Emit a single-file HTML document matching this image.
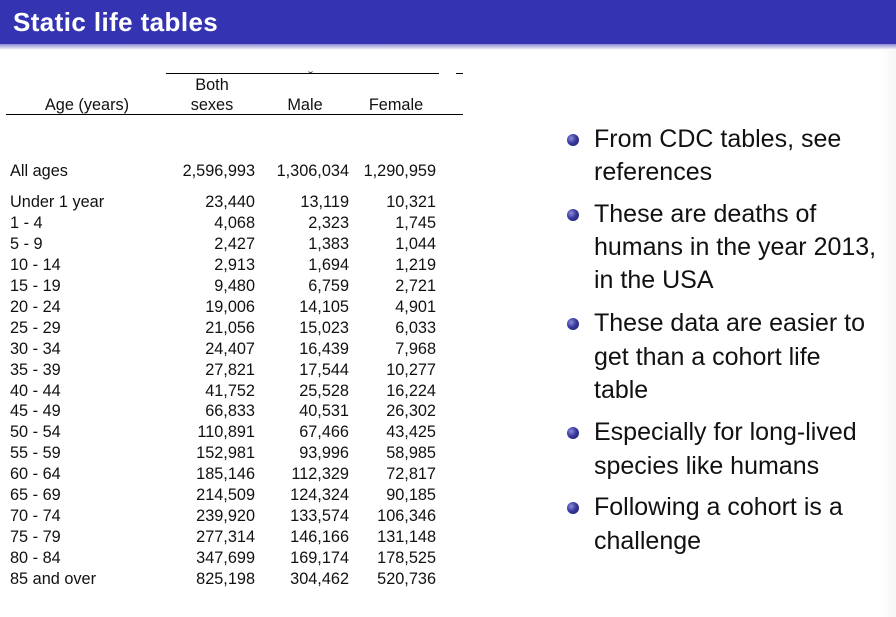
<!DOCTYPE html>
<html><head><meta charset="utf-8">
<style>
html,body{margin:0;padding:0;}
body{width:896px;height:617px;position:relative;overflow:hidden;background:#fff;font-family:"Liberation Sans",Arial,sans-serif;}
#bar{position:absolute;left:0;top:0;width:896px;height:44px;background:#3434b2;}
#shadow{position:absolute;left:0;top:44px;width:896px;height:6px;background:linear-gradient(#8a8ad0,#fff);}
#title{position:absolute;left:13px;top:5px;font-size:26px;font-weight:bold;color:#fff;line-height:34px;letter-spacing:0.4px;}
#edge{position:absolute;left:880px;top:50px;width:16px;height:567px;background:linear-gradient(90deg,#fff,#f6f6f8);}
.t{position:absolute;font-size:16.3px;color:#111;line-height:20px;white-space:nowrap;}
.l{left:10px;}
.c1{right:641px;text-align:right;}
.c2{right:547px;text-align:right;}
.c3{right:460px;text-align:right;}
.hr{position:absolute;background:#000;height:1.3px;}
.b{position:absolute;font-size:25px;color:#111;line-height:33px;white-space:nowrap;left:594px;}
.dot{position:absolute;left:567px;width:12px;height:12px;border-radius:50%;background:radial-gradient(circle at 35% 35%,#8c8cd8 0%,#3a3aa0 45%,#1a1a60 100%);}
</style></head><body>
<div id="bar"></div><div id="shadow"></div>
<div id="title">Static life tables</div>
<div id="edge"></div>

<div class="hr" style="left:166px;top:73px;width:273px;"></div>
<div class="hr" style="left:456px;top:73px;width:7px;"></div>
<div style="position:absolute;left:308px;top:70px;width:5px;height:2px;border-bottom:1px solid #333;border-radius:0 0 3px 3px;"></div>
<div class="hr" style="left:6px;top:114px;width:457px;"></div>

<div class="t" style="left:172px;width:80px;text-align:center;top:75px;">Both</div>
<div class="t" style="left:172px;width:80px;text-align:center;top:95px;">sexes</div>
<div class="t" style="left:40px;width:94px;text-align:center;top:95px;">Age (years)</div>
<div class="t" style="left:275px;width:60px;text-align:center;top:95px;">Male</div>
<div class="t" style="left:360px;width:72px;text-align:center;top:95px;">Female</div>

<div class="t l" style="top:161px;">All ages</div>
<div class="t c1" style="top:161px;">2,596,993</div>
<div class="t c2" style="top:161px;">1,306,034</div>
<div class="t c3" style="top:161px;">1,290,959</div>

<div class="t l" style="top:192px;">Under 1 year</div><div class="t c1" style="top:192px;">23,440</div><div class="t c2" style="top:192px;">13,119</div><div class="t c3" style="top:192px;">10,321</div>
<div class="t l" style="top:213px;">1 - 4</div><div class="t c1" style="top:213px;">4,068</div><div class="t c2" style="top:213px;">2,323</div><div class="t c3" style="top:213px;">1,745</div>
<div class="t l" style="top:234px;">5 - 9</div><div class="t c1" style="top:234px;">2,427</div><div class="t c2" style="top:234px;">1,383</div><div class="t c3" style="top:234px;">1,044</div>
<div class="t l" style="top:254.5px;">10 - 14</div><div class="t c1" style="top:254.5px;">2,913</div><div class="t c2" style="top:254.5px;">1,694</div><div class="t c3" style="top:254.5px;">1,219</div>
<div class="t l" style="top:275.5px;">15 - 19</div><div class="t c1" style="top:275.5px;">9,480</div><div class="t c2" style="top:275.5px;">6,759</div><div class="t c3" style="top:275.5px;">2,721</div>
<div class="t l" style="top:296.5px;">20 - 24</div><div class="t c1" style="top:296.5px;">19,006</div><div class="t c2" style="top:296.5px;">14,105</div><div class="t c3" style="top:296.5px;">4,901</div>
<div class="t l" style="top:317.5px;">25 - 29</div><div class="t c1" style="top:317.5px;">21,056</div><div class="t c2" style="top:317.5px;">15,023</div><div class="t c3" style="top:317.5px;">6,033</div>
<div class="t l" style="top:338.5px;">30 - 34</div><div class="t c1" style="top:338.5px;">24,407</div><div class="t c2" style="top:338.5px;">16,439</div><div class="t c3" style="top:338.5px;">7,968</div>
<div class="t l" style="top:359.5px;">35 - 39</div><div class="t c1" style="top:359.5px;">27,821</div><div class="t c2" style="top:359.5px;">17,544</div><div class="t c3" style="top:359.5px;">10,277</div>
<div class="t l" style="top:380.5px;">40 - 44</div><div class="t c1" style="top:380.5px;">41,752</div><div class="t c2" style="top:380.5px;">25,528</div><div class="t c3" style="top:380.5px;">16,224</div>
<div class="t l" style="top:401px;">45 - 49</div><div class="t c1" style="top:401px;">66,833</div><div class="t c2" style="top:401px;">40,531</div><div class="t c3" style="top:401px;">26,302</div>
<div class="t l" style="top:422px;">50 - 54</div><div class="t c1" style="top:422px;">110,891</div><div class="t c2" style="top:422px;">67,466</div><div class="t c3" style="top:422px;">43,425</div>
<div class="t l" style="top:443px;">55 - 59</div><div class="t c1" style="top:443px;">152,981</div><div class="t c2" style="top:443px;">93,996</div><div class="t c3" style="top:443px;">58,985</div>
<div class="t l" style="top:464px;">60 - 64</div><div class="t c1" style="top:464px;">185,146</div><div class="t c2" style="top:464px;">112,329</div><div class="t c3" style="top:464px;">72,817</div>
<div class="t l" style="top:485px;">65 - 69</div><div class="t c1" style="top:485px;">214,509</div><div class="t c2" style="top:485px;">124,324</div><div class="t c3" style="top:485px;">90,185</div>
<div class="t l" style="top:506px;">70 - 74</div><div class="t c1" style="top:506px;">239,920</div><div class="t c2" style="top:506px;">133,574</div><div class="t c3" style="top:506px;">106,346</div>
<div class="t l" style="top:527px;">75 - 79</div><div class="t c1" style="top:527px;">277,314</div><div class="t c2" style="top:527px;">146,166</div><div class="t c3" style="top:527px;">131,148</div>
<div class="t l" style="top:548px;">80 - 84</div><div class="t c1" style="top:548px;">347,699</div><div class="t c2" style="top:548px;">169,174</div><div class="t c3" style="top:548px;">178,525</div>
<div class="t l" style="top:568.5px;">85 and over</div><div class="t c1" style="top:568.5px;">825,198</div><div class="t c2" style="top:568.5px;">304,462</div><div class="t c3" style="top:568.5px;">520,736</div>

<div class="dot" style="top:134px;"></div>
<div class="b" style="top:123px;">From CDC tables, see</div>
<div class="b" style="top:156px;">references</div>

<div class="dot" style="top:209px;"></div>
<div class="b" style="top:198px;">These are deaths of</div>
<div class="b" style="top:231px;">humans in the year 2013,</div>
<div class="b" style="top:264px;">in the USA</div>

<div class="dot" style="top:318px;"></div>
<div class="b" style="top:307px;">These data are easier to</div>
<div class="b" style="top:341px;">get than a cohort life</div>
<div class="b" style="top:374px;">table</div>

<div class="dot" style="top:427px;"></div>
<div class="b" style="top:416px;">Especially for long-lived</div>
<div class="b" style="top:450px;">species like humans</div>

<div class="dot" style="top:502px;"></div>
<div class="b" style="top:491px;">Following a cohort is a</div>
<div class="b" style="top:525px;">challenge</div>
</body></html>
